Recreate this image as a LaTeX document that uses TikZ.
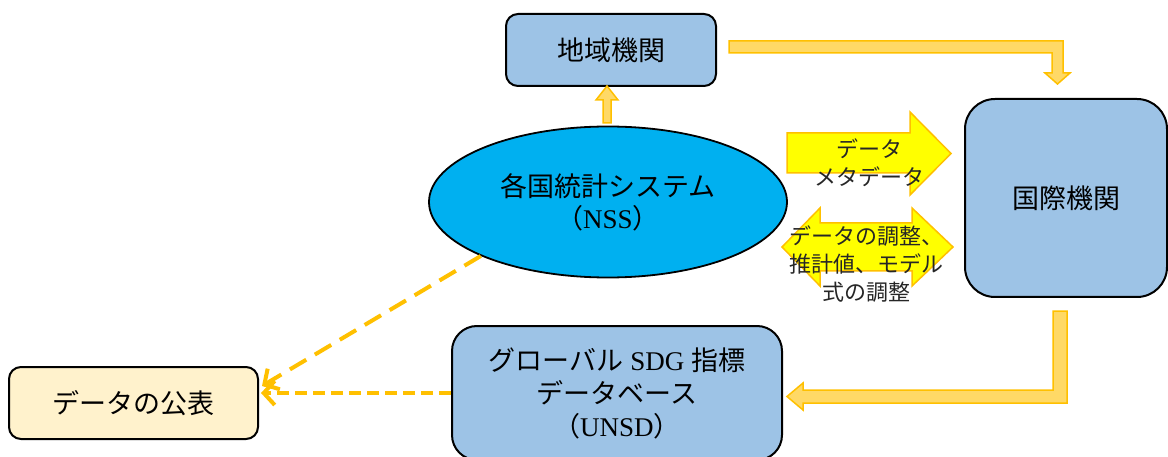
\documentclass[tikz,border=0pt]{standalone}
\usepackage{fontspec}
\setmainfont{Liberation Serif}
\newfontfamily\cjk{Noto Sans CJK JP}
\usetikzlibrary{arrows.meta,shapes.geometric,calc}
\definecolor{boxblue}{HTML}{9DC3E6}
\definecolor{nssblue}{HTML}{00B0F0}
\definecolor{gold}{HTML}{FFC000}
\definecolor{lightgold}{HTML}{FFD966}
\definecolor{pubfill}{HTML}{FFF2CC}
\definecolor{brightyellow}{HTML}{FFFF00}
\begin{document}
\begin{tikzpicture}[x=1pt,y=-1pt,
  box/.style={draw=black, line width=2pt, rounded corners=12pt, align=center,
    font=\fontsize{27}{33}\selectfont, inner sep=0pt},
  goldarrow/.style={fill=lightgold, draw=gold, line width=1.5pt, line join=miter},
  blockarrow/.style={fill=brightyellow, draw=gold, line width=1.5pt, line join=miter},
  label/.style={align=center, font=\cjk\fontsize{22}{28}\selectfont, text=black!85, inner sep=0pt},
  dasharrow/.style={draw=gold, line width=4pt, -{Straight Barb[length=11pt,width=24pt]}}]
\useasboundingbox (0,0) rectangle (1168,457);

% nodes
\node[box, fill=boxblue, minimum width=210pt, minimum height=72pt] (reg) at (611,50) {\cjk 地域機関};
\node[box, fill=boxblue, rounded corners=30pt, minimum width=202pt, minimum height=198pt] (intl) at (1066,198) {\cjk 国際機関};
\node[ellipse, draw=black, line width=1.8pt, fill=nssblue, minimum width=358pt, minimum height=151pt,
  inner sep=0pt, align=center, font=\fontsize{27}{32}\selectfont] (nss) at (608,202)
  {{\cjk 各国統計システム}\\{\cjk （}NSS{\cjk ）}};
\node[box, fill=boxblue, rounded corners=25pt, minimum width=330pt, minimum height=134pt] (sdg) at (617,393)
  {{\cjk グローバル} SDG {\cjk 指標}\\{\cjk データベース}\\{\cjk （}UNSD{\cjk ）}};
\node[box, fill=pubfill, minimum width=249pt, minimum height=72pt] (pub) at (133.5,403) {\cjk データの公表};

% block arrows
\draw[goldarrow] (603,123) -- (603,100) -- (596,100) -- (607,86) -- (618,100) -- (611,100) -- (611,123) -- cycle;
\draw[goldarrow] (729,41) -- (1063,41) -- (1063,73) -- (1070,73) -- (1057.5,84) -- (1045,73) -- (1052,73) -- (1052,53) -- (729,53) -- cycle;
\draw[goldarrow] (1067,311) -- (1067,403) -- (803,403) -- (803,410) -- (787,396.5) -- (803,383) -- (803,390) -- (1053,390) -- (1053,311) -- cycle;
\draw[blockarrow] (787,133) -- (910,133) -- (910,112) -- (951,153.5) -- (910,195) -- (910,173) -- (787,173) -- cycle;
\draw[blockarrow] (782,247) -- (820,208) -- (820,223) -- (912,223) -- (912,208) -- (953,247) -- (912,286) -- (912,271) -- (820,271) -- (820,286) -- cycle;

% labels
\node[label] (lab1) at (869,162.5) {データ\\メタデータ};
\node[label] (lab2) at (866,264) {データの調整、\\推計値、モデル\\式の調整};

% dashed connectors
\coordinate (pubtip) at (262,386);
\draw[dasharrow, dash pattern=on 19pt off 10pt] (nss.203) -- (pubtip);
\draw[dasharrow, dash pattern=on 12pt off 6pt] (sdg.west) -- ($(pub.east |- sdg.west)+(2,0)$);
\end{tikzpicture}
\end{document}
